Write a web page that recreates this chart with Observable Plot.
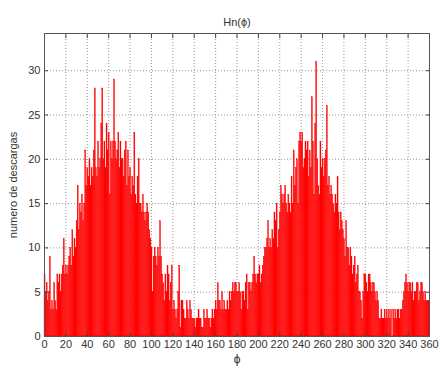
<!DOCTYPE html>
<html>
<head>
<meta charset="utf-8">
<script src="https://cdn.jsdelivr.net/npm/d3@7"></script>
<script src="https://cdn.jsdelivr.net/npm/@observablehq/plot@0.6"></script>
<style>
  html, body { margin: 0; padding: 0; background: #fff; }
  #chart svg { display: block; }
</style>
</head>
<body>
<div id="chart"></div>
<script>
// Discharge counts per 1-degree phase bin, 0..359 degrees
const counts = [
  7,5,6,4,5,9,3,4,3,6,
  4,3,7,6,7,5,7,8,11,7,
  8,7,8,9,10,8,12,9,11,10,
  13,17,12,15,14,16,13,15,21,17,
  19,18,20,17,19,18,21,28,19,18,
  22,19,20,24,28,20,22,19,24,21,
  23,16,22,20,22,29,22,20,21,23,
  19,22,20,20,18,21,22,17,21,18,
  19,16,18,17,23,16,15,18,20,15,
  15,14,16,14,13,14,15,14,12,11,
  10,5,9,10,9,8,10,9,13,9,
  7,6,4,7,5,8,7,4,6,8,
  3,4,3,2,3,5,8,1,4,4,
  3,2,2,4,3,2,4,3,2,2,
  2,1,2,2,3,2,2,1,1,3,
  2,2,3,2,2,1,2,3,2,3,
  4,3,6,4,4,3,5,3,4,3,
  3,4,3,5,4,5,6,5,6,6,
  5,5,6,5,3,5,5,4,6,7,
  3,6,6,5,6,7,9,7,6,7,
  7,8,6,7,8,9,10,10,11,13,
  10,11,10,12,11,14,13,15,10,12,
  14,17,16,15,16,17,15,14,16,15,
  14,18,15,21,17,19,20,15,22,23,
  22,23,19,20,22,21,22,18,21,19,
  27,22,16,24,31,20,17,16,22,19,
  20,18,20,21,26,17,18,16,17,16,
  15,14,16,15,18,14,12,14,13,12,
  11,9,13,10,10,8,10,9,7,8,
  9,6,7,8,5,5,4,2,5,7,
  7,6,5,7,7,6,5,6,6,5,
  4,5,4,2,2,3,2,2,3,2,
  3,2,3,2,3,0,3,2,3,2,
  3,3,2,3,3,4,5,6,7,6,
  5,6,6,5,6,4,5,5,6,6,
  4,5,6,6,5,4,5,4,4,4
];
const binWidth = 1;            // degrees per bin
const xDomain = [0, 360];
const yDomain = [0, 34.2];
const xTicks = d3.range(0, 361, 20);
const yTicks = [0, 5, 10, 15, 20, 25, 30];
const titleText = "Hn(ϕ)";
const xLabel = "ϕ";
const yLabel = "numero de descargas";

const bins = counts.map((c, i) => ({x1: i * binWidth, x2: (i + 1) * binWidth, count: c}));

const font = "'Liberation Sans', Arial, Helvetica, sans-serif";
const ink = "#333";
const gridStyle = {stroke: "#6f6f6f", strokeOpacity: 0.9, strokeDasharray: "1,2", strokeWidth: 0.8};
const blank = () => "";

const chart = Plot.plot({
  width: 440,
  height: 369,
  marginLeft: 44,
  marginRight: 11,
  marginTop: 33,
  marginBottom: 33,
  style: {fontFamily: font, fontSize: "11px", color: ink, background: "#fff"},
  x: {domain: xDomain},
  y: {domain: yDomain},
  marks: [
    Plot.gridX(xTicks, gridStyle),
    Plot.gridY(yTicks, gridStyle),
    Plot.rectY(bins, {x1: "x1", x2: "x2", y: "count", fill: "#ff0000", stroke: "#f00", strokeWidth: 0.3}),
    // inward tick marks on all four sides
    Plot.axisX(xTicks, {anchor: "bottom", tickSize: -4, tickFormat: blank, label: null, stroke: "#444"}),
    Plot.axisX(xTicks, {anchor: "top", tickSize: -4, tickFormat: blank, label: null, stroke: "#444"}),
    Plot.axisY(yTicks, {anchor: "left", tickSize: -4, tickFormat: blank, label: null, stroke: "#444"}),
    Plot.axisY(yTicks, {anchor: "right", tickSize: -4, tickFormat: blank, label: null, stroke: "#444"}),
    // tick labels and axis titles
    Plot.axisX(xTicks, {anchor: "bottom", tickSize: 0, tickPadding: 4, label: null, fill: ink}),
    Plot.axisY(yTicks, {anchor: "left", tickSize: 0, tickPadding: 4, label: yLabel, labelAnchor: "center", labelArrow: "none", labelOffset: 35, fill: ink}),
    Plot.frame({stroke: "#555", strokeWidth: 1}),
    Plot.text([titleText], {frameAnchor: "top", dy: -15, fill: ink, fontSize: 11}),
    Plot.text([xLabel], {frameAnchor: "bottom", dy: 26, fill: ink, fontSize: 12})
  ]
});

document.getElementById("chart").appendChild(chart);
</script>
</body>
</html>
